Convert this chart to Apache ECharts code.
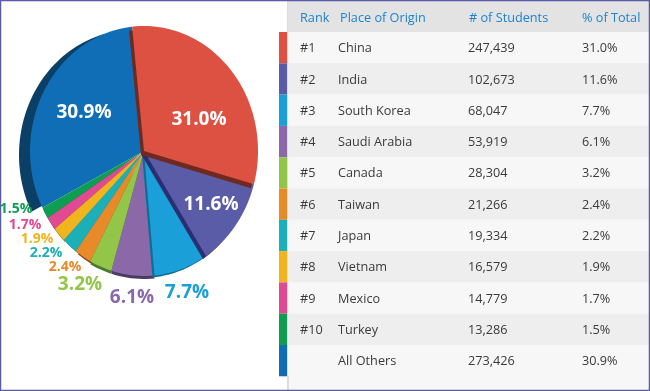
<!DOCTYPE html>
<html>
<head>
<meta charset="utf-8">
<style>
html, body { margin: 0; padding: 0; background: #fff; }
#chart { width: 650px; height: 391px; }
</style>
<script src="https://cdn.jsdelivr.net/npm/echarts@6/dist/echarts.min.js"></script>
</head>
<body>
<div id="chart"></div>
<script>
// table data
const ranks = ['#1', '#2', '#3', '#4', '#5', '#6', '#7', '#8', '#9', '#10', ''];
const places = ['China', 'India', 'South Korea', 'Saudi Arabia', 'Canada', 'Taiwan', 'Japan', 'Vietnam', 'Mexico', 'Turkey', 'All Others'];
const students = ['247,439', '102,673', '68,047', '53,919', '28,304', '21,266', '19,334', '16,579', '14,779', '13,286', '273,426'];
const shares = [31.0, 11.6, 7.7, 6.1, 3.2, 2.4, 2.2, 1.9, 1.7, 1.5, 30.9];
const headers = ['Rank', 'Place of Origin', '# of Students', '% of Total'];

// styling, slice order
const faceColors = ['#dd5142', '#5b5ca8', '#1a9fd9', '#8b69a8', '#93c648', '#e88a2a', '#1bb0b8', '#f0b41f', '#e04a92', '#0f9d52', '#0f6eb5'];
const sideColors = ['#6e2a20', '#2b2e72', '#0e6d96', '#4a3a66', '#4a7a2c', '#7a4a1e', '#0e6a70', '#9a7420', '#8a2a60', '#0a6a38', '#0b3f66'];
const labelColors = ['#fff', '#fff', '#1a9fd9', '#8b69a8', '#93c648', '#e88a2a', '#1bb0b8', '#f0b41f', '#e04a92', '#0f9d52', '#fff'];
const labelSizes = [19, 19, 19, 19, 19, 14, 14, 14, 14, 14, 19];
const labelSpots = [[199, 120], [211, 205], [187, 293], [132, 298], [80, 285], [65, 267], [46, 253], [37, 239], [25, 225], [16, 209], [84, 113]];
// how far the dark side of each slice shows below the face
const sideShift = [[-3, 4], [-3, 3], [-2, 2], [0, 3], [0, 3], [2, 3], [2, 2], [1, 2], [1, 2], [1, 2], [-11, 4]];

const cx = 144, cy = 151, rx = 114, ry = 125;
const startAngle = -6;
const fontName = '"Open Sans", sans-serif';

function slicePoints(from, to, dx, dy) {
    const pts = [[cx + dx, cy + dy]];
    const steps = Math.max(4, Math.ceil((to - from) / 2));
    for (let k = 0; k <= steps; k++) {
        const a = (from + (to - from) * k / steps) * Math.PI / 180;
        pts.push([cx + dx + rx * Math.sin(a), cy + dy - ry * Math.cos(a)]);
    }
    return pts;
}

function renderSlice(params, api) {
    const i = api.value(0);
    const total = shares.reduce((sum, v) => sum + v, 0);
    const before = shares.slice(0, i).reduce((sum, v) => sum + v, 0);
    const from = startAngle + before / total * 360;
    const to = from + api.value(1) / total * 360;
    return {
        type: 'group',
        children: [
            { type: 'polygon', shape: { points: slicePoints(from, to, sideShift[i][0], sideShift[i][1]) }, style: { fill: sideColors[i] } },
            { type: 'polygon', shape: { points: slicePoints(from, to, 0, 0) }, style: { fill: faceColors[i] } }
        ]
    };
}

function renderLabel(params, api) {
    const i = api.value(0);
    return {
        type: 'text',
        x: labelSpots[i][0],
        y: labelSpots[i][1],
        style: {
            text: api.value(1).toFixed(1) + '%',
            fill: labelColors[i],
            font: 'bold ' + labelSizes[i] + 'px ' + fontName,
            textAlign: 'center',
            textVerticalAlign: 'middle'
        }
    };
}

const colX = [300, 338, 468, 582];
const headX = [300, 340, 469, 582];
const tableTop = 32, rowH = 31.3;

function cellText(text, x, y, color) {
    return { type: 'text', x: x, y: y, style: { text: text, fill: color, font: '12.7px ' + fontName, textVerticalAlign: 'middle' } };
}

function renderRow(params, api) {
    const i = api.value(0);
    const y = tableTop + i * rowH;
    const mid = y + rowH / 2 + 1;
    return {
        type: 'group',
        children: [
            { type: 'rect', shape: { x: 279, y: y, width: 8, height: rowH }, style: { fill: faceColors[i] } },
            { type: 'rect', shape: { x: 288, y: y, width: 362, height: rowH }, style: { fill: i % 2 ? '#eeeeee' : '#f7f7f7' } },
            cellText(ranks[i], colX[0], mid, '#3a3a3a'),
            cellText(places[i], colX[1], mid, '#3a3a3a'),
            cellText(students[i], colX[2], mid, '#3a3a3a'),
            cellText(shares[i].toFixed(1) + '%', colX[3], mid, '#3a3a3a')
        ]
    };
}

const chart = echarts.init(document.getElementById('chart'), null, { renderer: 'canvas' });
chart.setOption({
    animation: false,
    backgroundColor: '#fff',
    graphic: [
        { type: 'rect', z: 0, shape: { x: 287, y: 0, width: 363, height: 391 }, style: { fill: '#f7f7f7' } },
        { type: 'rect', z: 0, shape: { x: 287, y: 0, width: 2, height: 391 }, style: { fill: '#dddddd' } },
        { type: 'rect', z: 0, shape: { x: 288, y: 0, width: 362, height: 32 }, style: { fill: '#e3e3e3' } },
        ...headers.map((h, i) => ({
            type: 'text', z: 1, x: headX[i], y: 18,
            style: { text: h, fill: '#1a84d0', font: '12.7px ' + fontName, textVerticalAlign: 'middle' }
        })),
        { type: 'rect', z: 100, shape: { x: 0.5, y: 0.5, width: 649, height: 390 }, style: { fill: 'none', stroke: '#5b5ca8', lineWidth: 1.5 } }
    ],
    series: [
        {
            type: 'custom',
            coordinateSystem: 'none',
            renderItem: renderRow,
            data: places.map((p, i) => [i, p]),
            silent: true,
            z: 2
        },
        {
            // drawn from All Others back to China so each side overlaps its neighbour
            type: 'custom',
            coordinateSystem: 'none',
            renderItem: renderSlice,
            data: shares.map((v, i) => [i, v]).sort((a, b) => (b[0] === 10) - (a[0] === 10) || b[0] - a[0]),
            silent: true,
            z: 3
        },
        {
            type: 'custom',
            coordinateSystem: 'none',
            renderItem: renderLabel,
            data: shares.map((v, i) => [i, v]),
            silent: true,
            z: 4
        }
    ]
});
</script>
</body>
</html>
